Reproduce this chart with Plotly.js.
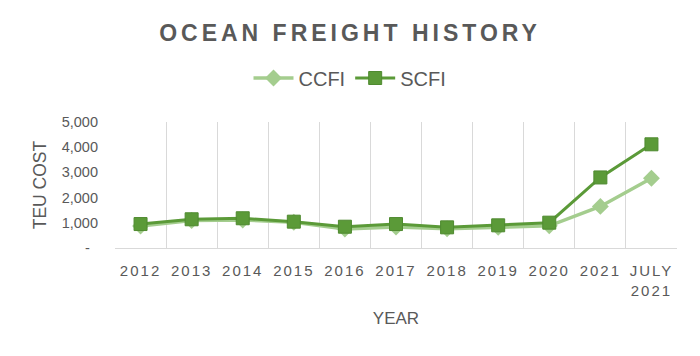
<!DOCTYPE html>
<html>
<head>
<meta charset="utf-8">
<script src="https://cdn.plot.ly/plotly-3.0.1.min.js"></script>
<style>
html,body{margin:0;padding:0;background:#fff;}
#chart{width:700px;height:356px;}
.gtitle{letter-spacing:4px;}
.xtick text{letter-spacing:2px;}
</style>
</head>
<body>
<div id="chart"></div>
<script>
const categories = ["2012","2013","2014","2015","2016","2017","2018","2019","2020","2021","JULY<br>2021"];
const ccfi = [870, 1090, 1110, 1020, 750, 830, 760, 820, 880, 1650, 2765];
const scfi = [950, 1140, 1180, 1045, 845, 950, 820, 900, 1005, 2800, 4115];
const yTickVals = [0, 1000, 2000, 3000, 4000, 5000];
const yTickText = ["-\u00a0\u00a0", "1,000", "2,000", "3,000", "4,000", "5,000"];

const textColor = "#595959";
const font = "Liberation Sans, Arial, sans-serif";

const traces = [
  {
    x: categories, y: ccfi, name: "CCFI", type: "scatter", mode: "lines+markers",
    line: {color: "#a4cd8e", width: 3.5},
    marker: {symbol: "diamond", size: 13, color: "#a4cd8e"}
  },
  {
    x: categories, y: scfi, name: "SCFI", type: "scatter", mode: "lines+markers",
    line: {color: "#5b9a38", width: 3},
    marker: {symbol: "square", size: 13, color: "#5b9a38", line: {color: "#4f8a30", width: 1}}
  }
];

const layout = {
  width: 700, height: 356,
  margin: {l: 115, r: 23, t: 122, b: 108},
  paper_bgcolor: "#fff", plot_bgcolor: "#fff",
  font: {family: font, color: textColor},
  title: {
    text: "<b>OCEAN FREIGHT HISTORY</b>",
    font: {family: font, size: 23, color: textColor},
    x: 0.5, xanchor: "center", xref: "container",
    y: 1 - 33/356, yanchor: "middle", yref: "container"
  },
  showlegend: true,
  legend: {
    orientation: "h", xref: "container", yref: "container",
    x: 0.5, xanchor: "center", y: 1 - 78/356, yanchor: "middle",
    font: {family: font, size: 20, color: textColor},
    itemwidth: 40, traceorder: "normal"
  },
  xaxis: {
    type: "category",
    tickson: "boundaries",
    showgrid: true, gridcolor: "#d9d9d9", gridwidth: 1,
    showline: true, linecolor: "#d9d9d9", linewidth: 1,
    ticks: "", ticklen: 0,
    tickfont: {family: font, size: 15, color: textColor},
    tickangle: 0,
    ticklabelstandoff: 9,
    title: {text: "YEAR", font: {family: font, size: 17, color: textColor}, standoff: 14},
    range: [-0.5, 10.5], fixedrange: true
  },
  yaxis: {
    range: [0, 5000],
    tickvals: yTickVals, ticktext: yTickText,
    showgrid: false, zeroline: false, showline: false,
    ticks: "", tickfont: {family: font, size: 14.5, color: textColor},
    ticklabelstandoff: 16,
    title: {text: "TEU COST", font: {family: font, size: 17.5, color: textColor}, standoff: 10}
  }
};

Plotly.newPlot("chart", traces, layout, {displayModeBar: false, staticPlot: true});
</script>
</body>
</html>
